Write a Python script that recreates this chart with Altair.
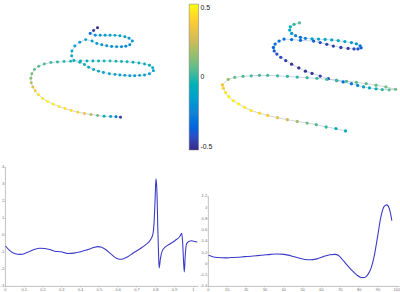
import altair as alt
import pandas as pd

# ---------------- data ----------------
# top-left helix (projected positions, colour value)
tl_x = [94, 90, 86.5, 91.7, 96.7, 101.7, 106.7, 111.7, 116.7, 121.7, 126, 129.3,
        126.7, 122.7, 118.3, 113.3, 108.3, 103.3, 98.3, 93.3, 88.5,
        82, 76, 71, 68, 67.7, 70,
        76.7, 83.3, 89.3, 95, 100.7, 106.7, 112.7, 118.3, 124, 130, 136, 141.7, 146.7, 150, 150.7,
        146.7, 141.7, 136.7, 131.7, 126.7, 121.7, 116.7, 111.7, 106, 100, 95, 90, 85, 80.7, 76,
        66.7, 60, 53.3, 46.7, 40, 34.3, 30, 27.3, 26.3, 26.7,
        28.3, 30.7, 34, 38.3, 43.3, 49, 55, 61, 67.3, 74, 80.7, 87.3, 94, 100.7, 107.3, 112.7, 117.3]
tl_y = [26, 28.7, 31.7, 33.5, 33.5, 33.5, 33.5, 33.7, 34, 35, 36.7, 39.5,
        43.3, 44.7, 45.3, 45.3, 45, 44.3, 43.3, 42, 39.5,
        38, 40.7, 44.5, 49.5, 54.5, 59.3,
        59.7, 59.7, 59.7, 59.7, 59.7, 59.8, 60, 60.2, 60.5, 61, 61.7, 62.7, 64, 66.5, 69.5,
        72.7, 74, 74.3, 74.7, 74.7, 74.3, 74, 73.3, 72.7, 71.3, 70, 68.3, 66, 63.3, 61,
        60, 60.3, 60.7, 61.3, 62.7, 65, 68.3, 72.7, 77.3, 81.7,
        86, 90, 94, 97.7, 100.7, 103.7, 106, 108, 110, 111.7, 113, 114, 115, 115.7, 116, 116.3, 116.7]
tl_c = [-0.5, -0.45, -0.35, -0.2, -0.17, -0.15, -0.13, -0.12, -0.12, -0.13, -0.15, -0.18,
        -0.2, -0.22, -0.22, -0.2, -0.2, -0.18, -0.17, -0.15, -0.15,
        -0.15, -0.13, -0.12, -0.1, -0.1, -0.08,
        -0.06, -0.05, -0.04, -0.03, -0.02, -0.02, -0.02, -0.03, -0.03, -0.04, -0.05, -0.06, -0.08, -0.1, -0.12,
        -0.14, -0.15, -0.16, -0.16, -0.16, -0.15, -0.15, -0.14, -0.13, -0.12, -0.11, -0.1, -0.08, -0.06, -0.04,
        -0.02, 0, 0, 0.02, 0.03, 0.05, 0.07, 0.1, 0.12, 0.2,
        0.3, 0.38, 0.43, 0.46, 0.48, 0.47, 0.45, 0.44, 0.43, 0.4, 0.33, 0.22, 0.1, -0.05, -0.15, -0.28, -0.45]

# top-right helix
tr_x = [299, 293.5, 289.7, 289, 291, 295, 300,
        305, 311.7, 318.3, 325, 331.7, 338.3, 345, 351.7, 356.7, 360.5, 361.5,
        358.3, 354.3, 348.3, 341, 333.3, 326.7, 320, 313.3, 300, 291,
        283.3, 278.3, 274.3, 272.5, 273.3, 276, 280, 285, 291, 298.3, 305, 311.7, 320, 328.3,
        336.7, 343.3, 351.7, 358, 364, 370, 376.7, 383, 390, 396.5,
        386.7, 376.7, 366.7, 356.7, 346.7, 336.7, 326.7, 316.7, 306.7, 296.7, 286.7, 276.7,
        266.7, 258.3, 250, 241.7, 233.3, 226.7,
        220.7, 221.7, 224, 227.3, 231.7, 237.3, 243.3, 250, 258.3, 266.7, 276.7, 286.7, 296.7,
        306.7, 316, 326, 336, 345.7]
tr_y = [21, 22.5, 25, 28.3, 31.7, 34, 35.7,
        36.7, 37.2, 37.5, 37.8, 38.3, 39, 40, 41, 42.3, 44.3, 46.3,
        47.5, 47.5, 47, 46, 44.5, 42.8, 41, 39.5, 38.7, 38,
        37.5, 39.5, 42.5, 46, 49.5, 52.7, 56, 59.3, 63, 66.7, 70, 72.3, 75, 77.7,
        79.5, 81, 82.8, 84.5, 86, 87, 88, 88.7, 89, 88.5,
        86, 84.3, 82.7, 81.3, 80.3, 79.3, 78.3, 77.3, 76.7, 76, 75.3, 74.7,
        74.3, 74.3, 74.7, 75.3, 76.3, 78.3,
        84, 87.3, 91.7, 96, 100, 103.3, 106.7, 110, 112.7, 115, 117.3, 119.3, 121,
        122.7, 124.3, 126.7, 128.3, 130.7]
tr_c = [0.05, 0.0, -0.05, -0.1, -0.15, -0.25, -0.3,
        -0.25, -0.15, -0.12, -0.1, -0.1, -0.1, -0.12, -0.15, -0.2, -0.3, -0.35,
        -0.4, -0.42, -0.45, -0.45, -0.45, -0.43, -0.4, -0.38, -0.35, -0.3,
        -0.3, -0.3, -0.32, -0.35, -0.38, -0.4, -0.42, -0.45, -0.47, -0.48, -0.48, -0.47, -0.45, -0.42,
        -0.38, -0.33, -0.28, -0.22, -0.15, -0.1, -0.05, 0.0, 0.05, 0.1,
        0.1, 0.08, 0.06, 0.05, 0.04, 0.03, 0.02, 0.02, 0.01, 0.0, 0.0, 0.01,
        0.02, 0.03, 0.04, 0.05, 0.07, 0.15,
        0.35, 0.4, 0.45, 0.47, 0.48, 0.48, 0.47, 0.45, 0.42, 0.38, 0.32, 0.25, 0.18,
        0.1, 0.05, 0.0, -0.05, -0.08]

# bottom-left signal
bl_x = [0.003, 0.029, 0.055, 0.081, 0.107, 0.134, 0.160, 0.186, 0.212, 0.238, 0.264, 0.298,
        0.333, 0.368, 0.403, 0.437, 0.472, 0.493, 0.515, 0.541, 0.567, 0.594, 0.611, 0.628,
        0.654, 0.680, 0.715, 0.750, 0.776, 0.788, 0.795, 0.800, 0.804, 0.809, 0.814, 0.818,
        0.821, 0.828, 0.837, 0.854, 0.880, 0.906, 0.932, 0.941, 0.946, 0.951, 0.955, 0.960,
        0.967, 0.979, 0.993, 1.010, 1.024]
bl_y = [-0.655, -0.960, -1.112, -1.150, -1.093, -0.960, -0.846, -0.789, -0.808, -0.865, -0.960, -0.998,
        -1.093, -1.074, -0.998, -0.884, -0.750, -0.693, -0.731, -0.903, -1.150, -1.379, -1.436, -1.417,
        -1.284, -1.093, -0.846, -0.579, -0.274, 0.050, 0.907, 2.240, 3.288, 2.621, 0.335, -1.189,
        -1.950, -1.379, -0.960, -0.712, -0.522, -0.331, -0.084, 0.088, -0.426, -1.569, -2.179, -1.189,
        -0.522, -0.388, -0.350, -0.388, -0.426]
bl_xticks = [0, 0.1, 0.2, 0.3, 0.4, 0.5, 0.6, 0.7, 0.8, 0.9, 1]
bl_yticks = [-3, -2, -1, 0, 1, 2, 3, 4]

# bottom-right signal
br_x = [0.35, 2.96, 5.57, 9.06, 12.54, 16.03, 19.51, 23.0, 26.48, 29.97, 33.45, 36.93, 40.42,
        43.9, 47.39, 50.87, 54.36, 57.84, 61.32, 64.81, 67.42, 69.16, 70.91, 73.52, 76.13,
        78.75, 81.36, 83.1, 84.84, 86.59, 88.33, 90.07, 91.81, 93.55, 94.95, 96.17, 97.0, 97.6]
br_y = [0.143, 0.114, 0.103, 0.097, 0.103, 0.109, 0.120, 0.126, 0.137, 0.149, 0.160, 0.166, 0.160,
        0.137, 0.103, 0.074, 0.063, 0.080, 0.120, 0.154, 0.160, 0.143, 0.086, -0.017, -0.114,
        -0.200, -0.251, -0.251, -0.200, -0.085, 0.143, 0.485, 0.828, 1.011, 1.039, 0.98, 0.87, 0.76]
br_xticks = [0, 10, 20, 30, 40, 50, 60, 70, 80, 90, 100]
br_yticks = [-0.4, -0.2, 0, 0.2, 0.4, 0.6, 0.8, 1, 1.2]

# parula-like colormap
cmap_domain = [-0.5, -0.375, -0.25, -0.125, 0, 0.125, 0.25, 0.375, 0.5]
cmap_range = ['#352a87', '#0f5cdd', '#1481d6', '#06a4ca', '#2eb7a4',
              '#87bf77', '#d1bb59', '#fec832', '#f9fb0e']
colorbar_ticks = [-0.5, 0, 0.5]

FONT = "Liberation Sans"
LINE_BLUE = "#3a3ac8"
PLAIN_LABEL = "'' + datum.value"

color_scale = alt.Scale(domain=cmap_domain, range=cmap_range, clamp=True)


def helix(xs, ys, cs, xdom, w, with_legend, dot):
    df = pd.DataFrame({"x": xs, "y": ys, "c": cs, "i": list(range(len(xs)))})
    sx = alt.Scale(domain=xdom, nice=False, zero=False)
    sy = alt.Scale(domain=[0, 152], reverse=True, nice=False, zero=False)
    line = alt.Chart(df).mark_line(color="#a9b8d2", strokeWidth=0.6).encode(
        x=alt.X("x:Q", scale=sx, axis=None),
        y=alt.Y("y:Q", scale=sy, axis=None),
        order="i:Q",
    )
    if with_legend:
        leg = alt.Legend(orient="none", legendX=187, legendY=2, direction="vertical",
                         gradientLength=148, gradientThickness=9.5, title=None,
                         values=colorbar_ticks, labelFontSize=7, labelFont=FONT,
                         labelColor="#222", labelOffset=2, labelExpr=PLAIN_LABEL,
                         gradientStrokeColor="#777", gradientStrokeWidth=0.5)
    else:
        leg = None
    pts = alt.Chart(df).mark_circle(size=dot, opacity=1).encode(
        x=alt.X("x:Q", scale=sx, axis=None),
        y=alt.Y("y:Q", scale=sy, axis=None),
        color=alt.Color("c:Q", scale=color_scale, legend=leg),
    )
    return alt.layer(line, pts).properties(width=w, height=152)


tl = helix(tl_x, tl_y, tl_c, [0, 212], 212, True, 9)
tr = helix(tr_x, tr_y, tr_c, [213, 400], 187, False, 11)

axis_common = dict(labelFontSize=4, labelFont=FONT, labelColor="#777", tickColor="#999",
                   domainColor="#999", domainWidth=0.6, tickWidth=0.5, tickSize=1,
                   labelPadding=0.3, grid=False, title=None, labelExpr=PLAIN_LABEL)

bl_df = pd.DataFrame({"x": bl_x, "y": bl_y})
bl = alt.Chart(bl_df).mark_line(color=LINE_BLUE, strokeWidth=1.1, interpolate="monotone", clip=True).encode(
    x=alt.X("x:Q", scale=alt.Scale(domain=[0, 1.028], nice=False, zero=False),
            axis=alt.Axis(values=bl_xticks, minExtent=5, maxExtent=5, labelFlush=False, **axis_common)),
    y=alt.Y("y:Q", scale=alt.Scale(domain=[-3, 4], nice=False, zero=False),
            axis=alt.Axis(values=bl_yticks, minExtent=4, maxExtent=4, labelFlush=False, **axis_common)),
).properties(width=196, height=121)

br_df = pd.DataFrame({"x": br_x, "y": br_y})
br = alt.Chart(br_df).mark_line(color=LINE_BLUE, strokeWidth=1.1, interpolate="monotone", clip=True).encode(
    x=alt.X("x:Q", scale=alt.Scale(domain=[0, 101.4], nice=False, zero=False),
            axis=alt.Axis(values=br_xticks, minExtent=5, maxExtent=5, labelFlush=False, **axis_common)),
    y=alt.Y("y:Q", scale=alt.Scale(domain=[-0.4, 1.2], range=[121, 29.5], nice=False, zero=False),
            axis=alt.Axis(values=br_yticks, minExtent=5, maxExtent=5, labelFlush=False, **axis_common)),
).properties(width=194, height=121)

top = alt.hconcat(tl, tr, spacing=1).resolve_scale(x="independent", y="independent", color="independent")
bottom = alt.hconcat(bl, br, spacing=1).resolve_scale(x="independent", y="independent")

chart = alt.vconcat(top, bottom, spacing=13).properties(
    padding=0, background="white"
).configure_view(strokeWidth=0)

chart.save("out.html", embed_options={"renderer": "svg", "actions": False})
